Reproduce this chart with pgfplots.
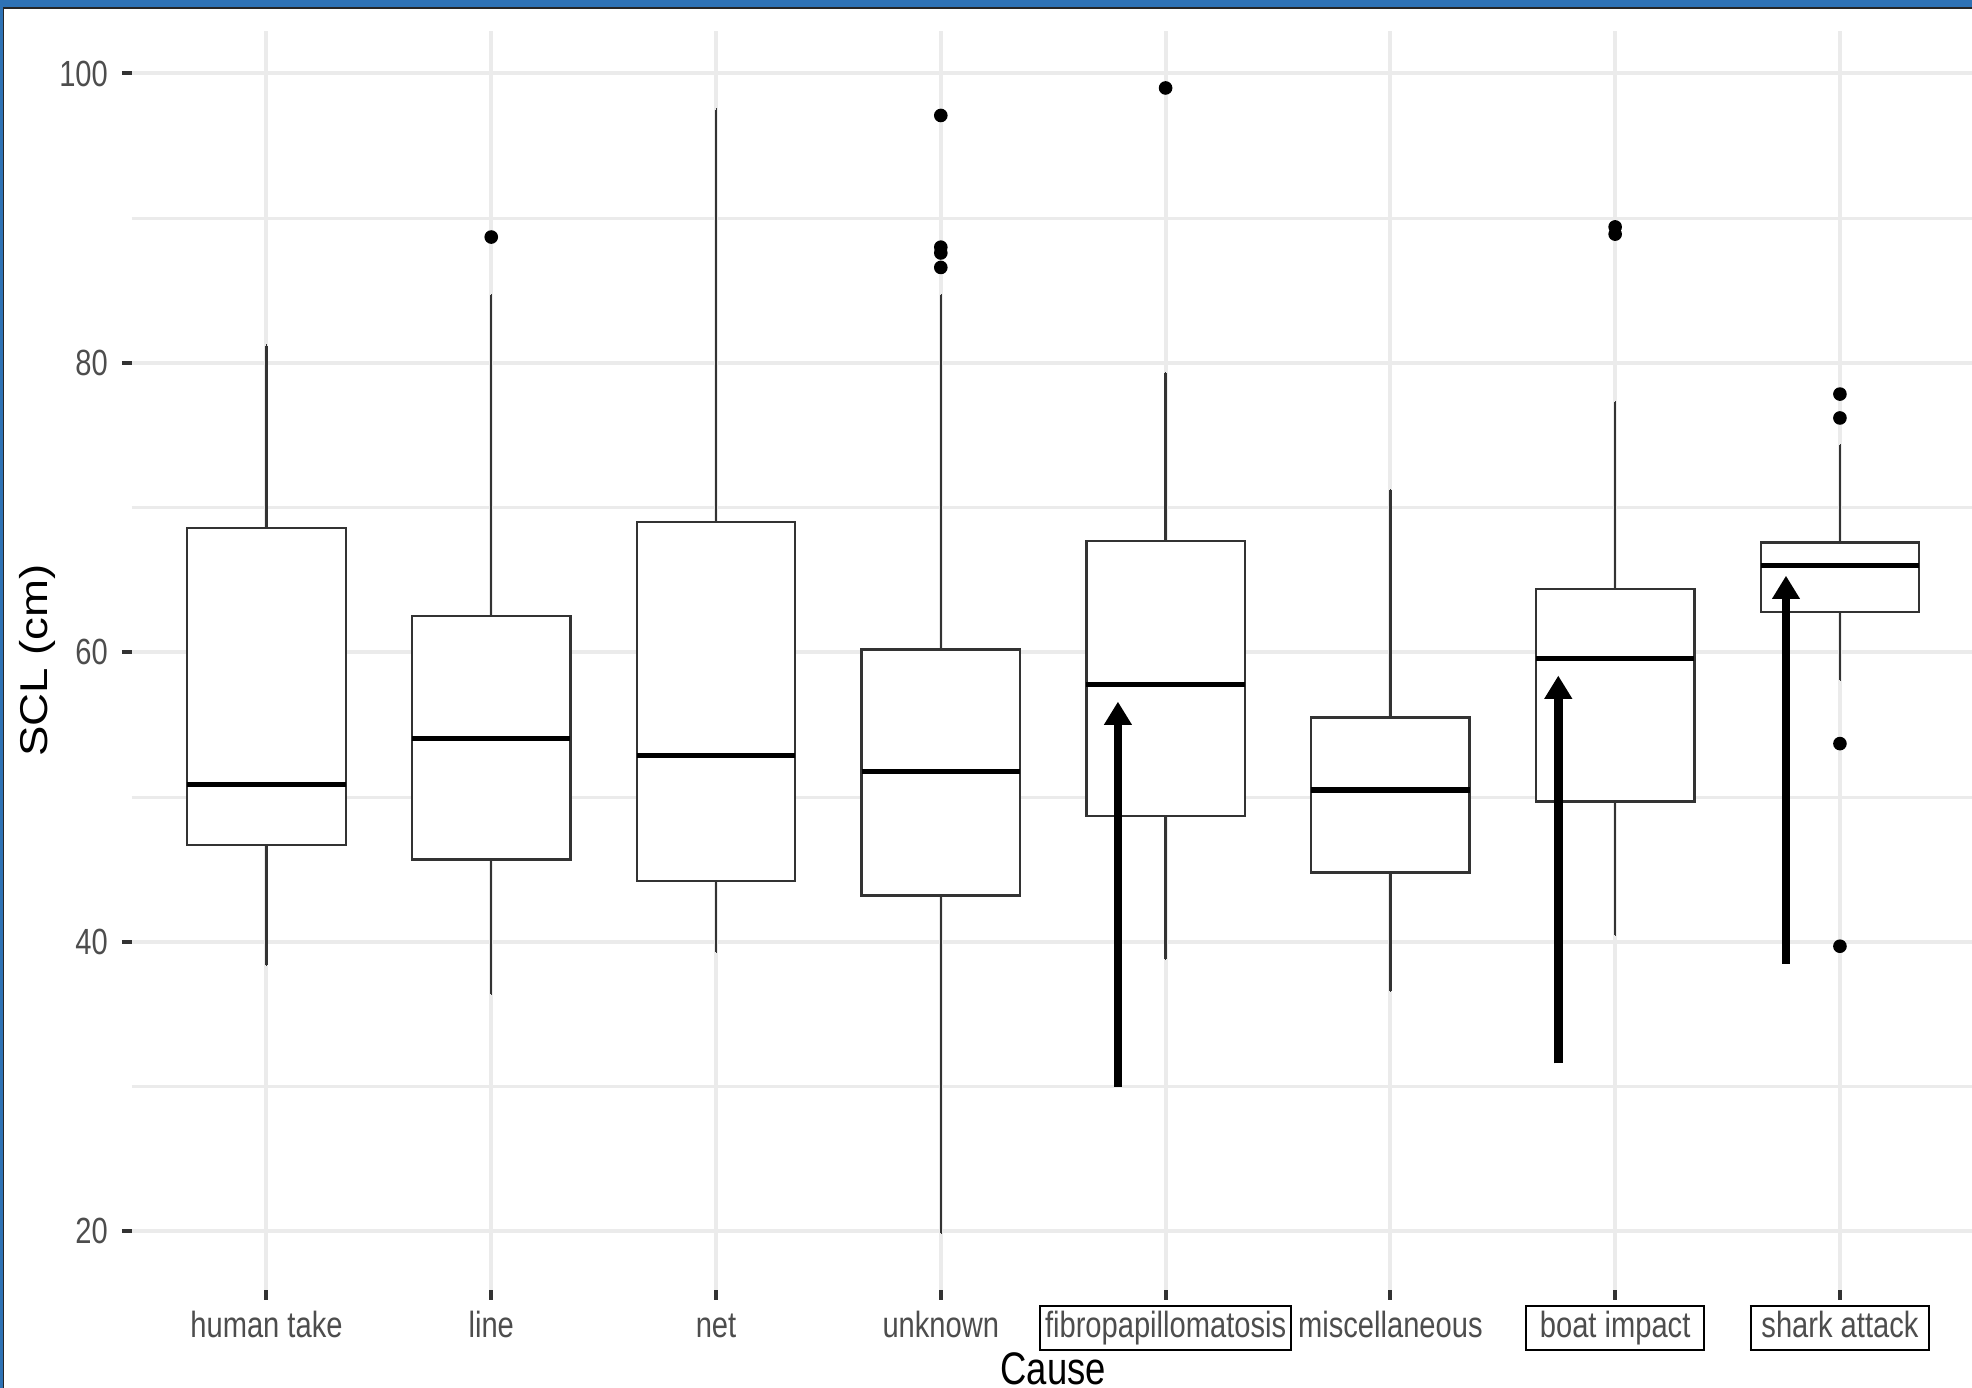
\documentclass[border=0pt]{standalone}
\usepackage{fontspec}
\setmainfont[FakeStretch=0.8]{Liberation Sans}
\newfontfamily\ylabfont{Liberation Sans}
\usepackage{graphicx}
\usepackage{pgfplots}
\pgfplotsset{compat=1.18}
\usepgfplotslibrary{statistics}
\usetikzlibrary{arrows.meta}
\definecolor{gridc}{HTML}{EBEBEB}
\definecolor{tickc}{HTML}{4D4D4D}
\definecolor{boxc}{HTML}{333333}
\definecolor{frameblue}{RGB}{46,114,181}
\newcommand{\bx}[2]{{\setlength{\fboxsep}{0pt}\setlength{\fboxrule}{0.55pt}\fcolorbox{black}{white}{\rule[-2.75pt]{0pt}{10.5pt}\makebox[#1]{\color{tickc}#2}}}}
\begin{document}
\begin{tikzpicture}
\begin{axis}[
  scale only axis,
  width=460.8pt, height=314.8pt,
  xmin=0.4, xmax=8.6, ymin=15.95, ymax=102.95,
  xtick={1,2,3,4,5,6,7,8},
  xticklabels={human take, line, net, unknown, {\bx{62.1pt}{fibropapillomatosis}}, miscellaneous, {\bx{43.9pt}{boat impact}}, {\bx{43.9pt}{shark attack}}},
  ytick={20,40,60,80,100},
  minor ytick={30,50,70,90},
  grid=both,
  major grid style={draw=gridc, line width=1pt},
  minor grid style={draw=gridc, line width=0.7pt},
  axis line style={draw=none},
  tick pos=left,
  tick align=outside,
  major tick length=2.4pt,
  minor tick length=0pt,
  tick style={draw=boxc, line width=1pt},
  tick label style={font=\fontsize{9.1}{11}\selectfont, text=tickc},
  /pgf/number format/assume math mode=true,
  xticklabel style={anchor=base, yshift=-9.6pt},
  yticklabel style={anchor=east},
  xlabel={Cause},
  ylabel={\scalebox{1}[0.85]{\ylabfont SCL (cm)}},
  xlabel style={at={(axis description cs:0.5,-0.0747)}, anchor=base, font=\fontsize{11.4}{13}\selectfont},
  ylabel style={at={(axis description cs:-0.0508,0.5)}, anchor=center, rotate=0, font=\fontsize{11.4}{13}\selectfont},
  boxplot/draw direction=y,
  boxplot/box extend=0.705,
  boxplot/whisker extend=0.001,
  boxplot/every box/.style={solid, draw=boxc, fill=white, line width=0.6pt},
  boxplot/every whisker/.style={solid, draw=boxc, line width=0.6pt},
  boxplot/every median/.style={solid, draw=black, line width=1.3pt},
  every axis plot/.append style={solid},
]
% human take
\addplot+[boxc, solid, mark=*, mark size=1.5pt, mark options={solid, draw=black, fill=black},
  boxplot prepared={draw position=1, median=50.9, upper quartile=68.6, lower quartile=46.7, upper whisker=81.2, lower whisker=38.4}] coordinates {};
% line
\addplot+[boxc, solid, mark=*, mark size=1.5pt, mark options={solid, draw=black, fill=black},
  boxplot prepared={draw position=2, median=54.05, upper quartile=62.5, lower quartile=45.7, upper whisker=84.7, lower whisker=36.4}] table[row sep=\\, y index=0] {v\\ 88.7\\};
% net
\addplot+[boxc, solid, mark=*, mark size=1.5pt, mark options={solid, draw=black, fill=black},
  boxplot prepared={draw position=3, median=52.9, upper quartile=69.0, lower quartile=44.2, upper whisker=97.5, lower whisker=39.3}] coordinates {};
% unknown
\addplot+[boxc, solid, mark=*, mark size=1.5pt, mark options={solid, draw=black, fill=black},
  boxplot prepared={draw position=4, median=51.8, upper quartile=60.2, lower quartile=43.2, upper whisker=84.7, lower whisker=19.9}] table[row sep=\\, y index=0] {v\\ 97.1\\ 88.0\\ 87.6\\ 86.6\\};
% fibropapillomatosis
\addplot+[boxc, solid, mark=*, mark size=1.5pt, mark options={solid, draw=black, fill=black},
  boxplot prepared={draw position=5, median=57.8, upper quartile=67.7, lower quartile=48.7, upper whisker=79.3, lower whisker=38.8}] table[row sep=\\, y index=0] {v\\ 99.0\\};
% miscellaneous
\addplot+[boxc, solid, mark=*, mark size=1.5pt, mark options={solid, draw=black, fill=black},
  boxplot prepared={draw position=6, median=50.5, upper quartile=55.5, lower quartile=44.8, upper whisker=71.2, lower whisker=36.6}] coordinates {};
% boat impact
\addplot+[boxc, solid, mark=*, mark size=1.5pt, mark options={solid, draw=black, fill=black},
  boxplot prepared={draw position=7, median=59.6, upper quartile=64.4, lower quartile=49.7, upper whisker=77.3, lower whisker=40.5}] table[row sep=\\, y index=0] {v\\ 89.4\\ 88.9\\};
% shark attack
\addplot+[boxc, solid, mark=*, mark size=1.5pt, mark options={solid, draw=black, fill=black},
  boxplot prepared={draw position=8, median=66.0, upper quartile=67.6, lower quartile=62.8, upper whisker=74.3, lower whisker=58.1}] table[row sep=\\, y index=0] {v\\ 77.85\\ 76.2\\ 53.7\\ 39.7\\};
% arrows
\addplot[line width=2.2pt, black, -{Triangle[width=6.6pt,length=5.8pt]}] coordinates {(4.788,30.0) (4.788,56.6)};
\addplot[line width=2.2pt, black, -{Triangle[width=6.6pt,length=5.8pt]}] coordinates {(6.747,31.6) (6.747,58.4)};
\addplot[line width=2.2pt, black, -{Triangle[width=6.6pt,length=5.8pt]}] coordinates {(7.760,38.5) (7.760,65.3)};
\end{axis}
\fill[frameblue] (-34pt,320.75pt) rectangle (462pt,324pt);
\fill[black!85] (-34pt,320.25pt) rectangle (462pt,320.75pt);
\fill[frameblue] (-34pt,-26pt) rectangle (-32.15pt,324pt);
\fill[black!85] (-32.15pt,-26pt) rectangle (-31.9pt,320.25pt);
\pgfresetboundingbox
\useasboundingbox (-32.9pt,-24.5pt) rectangle (460.1pt,322.5pt);
\end{tikzpicture}
\end{document}
